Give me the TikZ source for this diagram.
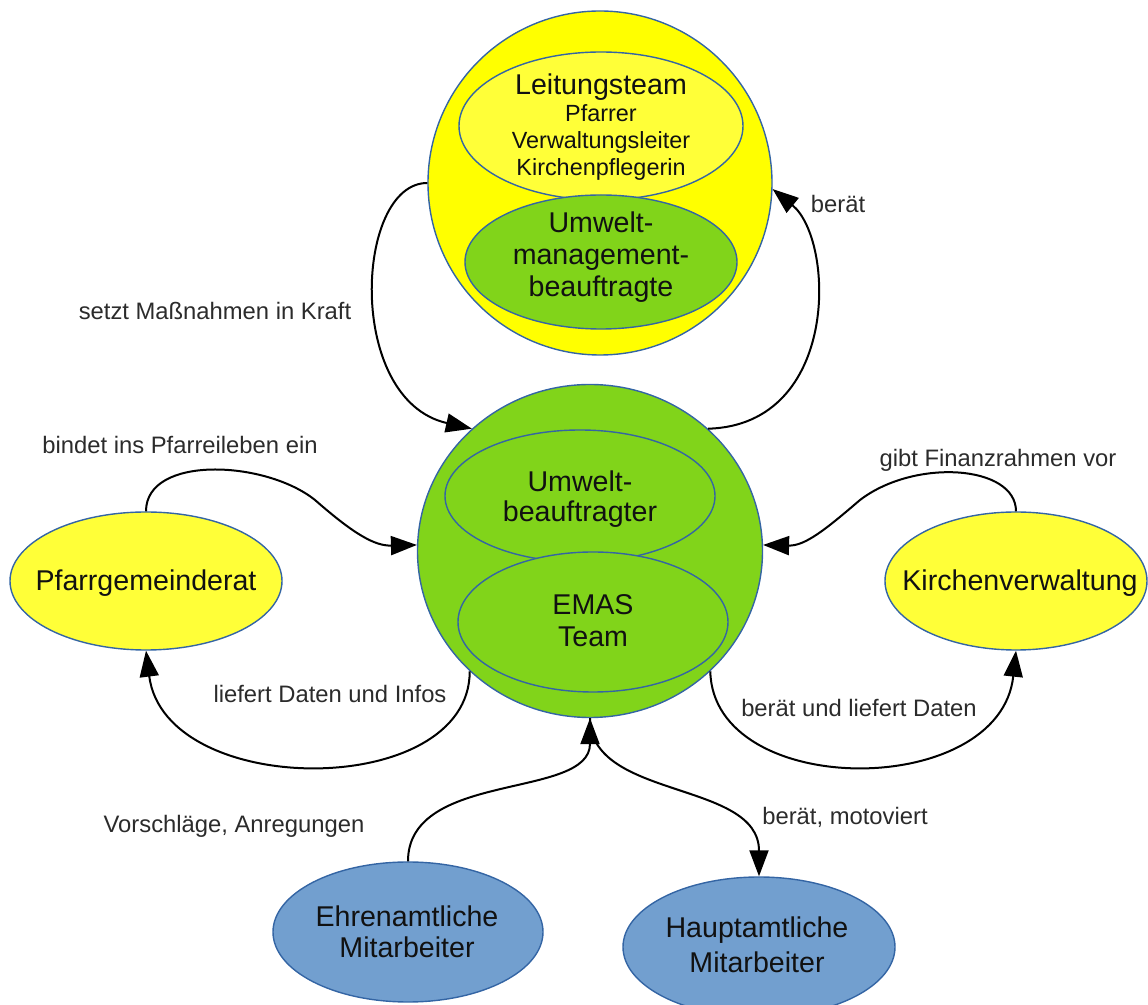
\documentclass[tikz,border=0pt]{standalone}
\usepackage{fontspec}
\setmainfont{Liberation Sans}
\usetikzlibrary{shapes.geometric,arrows.meta}
\definecolor{bordc}{HTML}{3465A4}
\definecolor{yel}{HTML}{FFFF00}
\definecolor{lyel}{HTML}{FFFF38}
\definecolor{grn}{HTML}{81D41A}
\definecolor{blu}{HTML}{729FCF}
\definecolor{txtc}{HTML}{111111}
\definecolor{lblc}{HTML}{2B2B2B}
\tikzset{
  shp/.style={draw=bordc, line width=0.7pt, inner sep=0pt},
  ell/.style={shp, ellipse},
  ntext/.style={font=\fontsize{14.3}{16}\selectfont, text=txtc, inner sep=0pt, anchor=base},
  stext/.style={font=\fontsize{11.7}{13.5}\selectfont, text=txtc, inner sep=0pt, anchor=base},
  lbl/.style={font=\fontsize{11.9}{14}\selectfont, text=lblc, inner sep=0pt, anchor=base},
  conn/.style={draw=black, line width=1pt, -{Triangle[length=13pt,width=9.5pt]}},
}
\begin{document}
\begin{tikzpicture}[x=0.5pt,y=-0.5pt]
\useasboundingbox (0,0) rectangle (1148,1005);
% top group
\node[shp, circle, fill=yel, minimum size=172pt] (yc) at (600,183) {};
\node[ell, fill=lyel, minimum width=142pt, minimum height=74pt] (lt) at (601,126) {};
\node[ell, fill=grn, minimum width=136pt, minimum height=67pt] (um) at (601,262) {};
\node[ntext] (lt1) at (601,95) {Leitungsteam};
\node[stext] (lt2) at (601,122) {Pfarrer};
\node[stext] (lt3) at (601,149) {Verwaltungsleiter};
\node[stext] (lt4) at (601,176) {Kirchenpflegerin};
\node[ntext] (um1) at (601,233) {Umwelt-};
\node[ntext] (um2) at (601,265) {management-};
\node[ntext] (um3) at (601,297) {beauftragte};
% central group
\node[ell, fill=grn, minimum width=172.5pt, minimum height=166.5pt] (gc) at (590,551) {};
\node[ell, fill=grn, minimum width=135pt, minimum height=66pt] (ub) at (580,496) {};
\node[ell, fill=grn, minimum width=135pt, minimum height=70pt] (emas) at (593,622) {};
\node[ntext] (ub1) at (580,492) {Umwelt-};
\node[ntext] (ub2) at (580,522) {beauftragter};
\node[ntext] (em1) at (593,615) {EMAS};
\node[ntext] (em2) at (593,647) {Team};
% side nodes
\node[ell, fill=lyel, minimum width=136pt, minimum height=69pt] (pg) at (146,581) {};
\node[ntext] (pgt) at (146,591) {Pfarrgemeinderat};
\node[ell, fill=lyel, minimum width=131pt, minimum height=69pt] (kv) at (1016,581) {};
\node[ntext] (kvt) at (1020,591) {Kirchenverwaltung};
% bottom nodes
\node[ell, fill=blu, minimum width=135pt, minimum height=70pt] (eh) at (408,932) {};
\node[ntext] (eh1) at (407,927) {Ehrenamtliche};
\node[ntext] (eh2) at (407,958) {Mitarbeiter};
\node[ell, fill=blu, minimum width=136pt, minimum height=70pt] (ha) at (759,947) {};
\node[ntext] (ha1) at (757,938) {Hauptamtliche};
\node[ntext] (ha2) at (757,973) {Mitarbeiter};
% connectors
\coordinate (b1) at (315,500);
\coordinate (b2) at (860,500);
\draw[conn] (yc.west) .. controls (355,183) and (345,400) .. (gc.134);
\draw[conn] (gc.46) .. controls (840,425) and (835,240) .. (yc.-2);
\draw[conn] (pg.north) .. controls (146,455) and (265,460) .. (b1) .. controls (355,535) and (375,546) .. (gc.178);
\draw[conn] (gc.-135) .. controls (470,800) and (165,800) .. (pg.south);
\draw[conn] (kv.north) .. controls (1016,465) and (915,458) .. (b2) .. controls (825,530) and (805,546) .. (gc.2);
\draw[conn] (gc.-45) .. controls (713,800) and (1000,800) .. (kv.south);
\draw[conn] (eh.north) .. controls (408,770) and (590,800) .. (gc.south);
\draw[conn] (gc.south) .. controls (590,800) and (759,780) .. (ha.north);
% labels
\node[lbl] (l1) at (215,320) {setzt Maßnahmen in Kraft};
\node[lbl] (l2) at (838,213) {berät};
\node[lbl] (l3) at (180,454) {bindet ins Pfarreileben ein};
\node[lbl] (l4) at (330,703) {liefert Daten und Infos};
\node[lbl] (l5) at (998,467) {gibt Finanzrahmen vor};
\node[lbl] (l6) at (859,717) {berät und liefert Daten};
\node[lbl] (l7) at (234,833) {Vorschläge, Anregungen};
\node[lbl] (l8) at (845,825) {berät, motoviert};
\end{tikzpicture}
\end{document}
